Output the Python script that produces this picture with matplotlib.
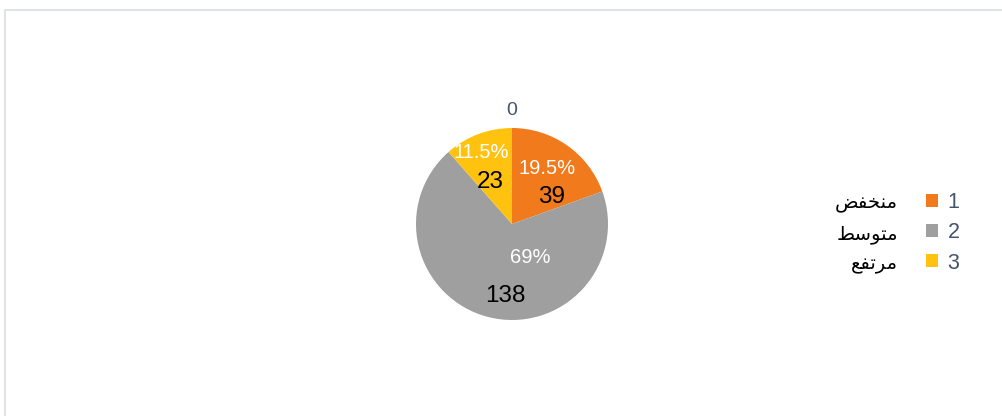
import matplotlib
matplotlib.use("Agg")
import matplotlib.pyplot as plt
from matplotlib.patches import Patch, Rectangle

plt.rcParams['font.family'] = ['Liberation Sans', 'DejaVu Sans']

# data
categories = ['1', '2', '3']
counts = [39, 138, 23]
percents = ['19.5%', '69%', '11.5%']
# arabic legend names (logical order): منخفض / متوسط / مرتفع
# written here in presentation forms, visual order, since matplotlib does no shaping
names = ['\uFEBE\uFED4\uFEA8\uFEE8\uFEE3',
         '\uFEC2\uFEB3\uFEEE\uFE98\uFEE3',
         '\uFECA\uFED4\uFE97\uFEAE\uFEE3']
title = '0'
colors = ['#F07A1C', '#9F9F9F', '#FFC20E']

W, H = 1002, 416
fig = plt.figure(figsize=(W / 100, H / 100), dpi=100)

# pie axes: centre (512,224) px, radius 96 px
ax = fig.add_axes([416 / W, (H - 320) / H, 192 / W, 192 / H])
wedges, _ = ax.pie(counts, colors=colors, startangle=90, counterclock=False,
                   radius=1, wedgeprops=dict(linewidth=0))
ax.set_xlim(-1, 1)
ax.set_ylim(-1, 1)

# label placement (in radius units), per slice: (pct pos, count pos)
label_pos = [((0.37, 0.58), (0.41, 0.28)),
             ((0.19, -0.35), (-0.07, -0.75)),
             ((-0.32, 0.74), (-0.23, 0.44))]
for (pp, cp), pct, n in zip(label_pos, percents, counts):
    ax.text(pp[0], pp[1], pct, ha='center', va='center', color='white', fontsize=14.5)
    ax.text(cp[0], cp[1], str(n), ha='center', va='center', color='black', fontsize=17.5)

ax.text(0, 1.18, title, ha='center', va='center', color='#44546A', fontsize=14)

# legend
handles = [Patch(facecolor=c, edgecolor='none') for c in colors]
leg = fig.legend(handles, categories, loc='center left',
                 bbox_to_anchor=(926 / W, (H - 233) / H),
                 frameon=False, fontsize=15.5, handlelength=0.55, handleheight=0.55,
                 handletextpad=0.45, labelspacing=0.42, borderaxespad=0, borderpad=0)
for t in leg.get_texts():
    t.set_color('#44546A')

for i, nm in enumerate(names):
    fig.text(898 / W, (H - 203 - 31 * i) / H, nm, ha='right', va='center',
             fontsize=14, color='black', family=['DejaVu Sans'])

# outer chart frame (only top and left visible)
fig.add_artist(Rectangle((4.5 / W, -0.1), 1.2, (H - 9.5) / H + 0.1,
                         transform=fig.transFigure, fill=False,
                         edgecolor='#D9DDE3', linewidth=1.2))

fig.savefig('out.png', dpi=100)
